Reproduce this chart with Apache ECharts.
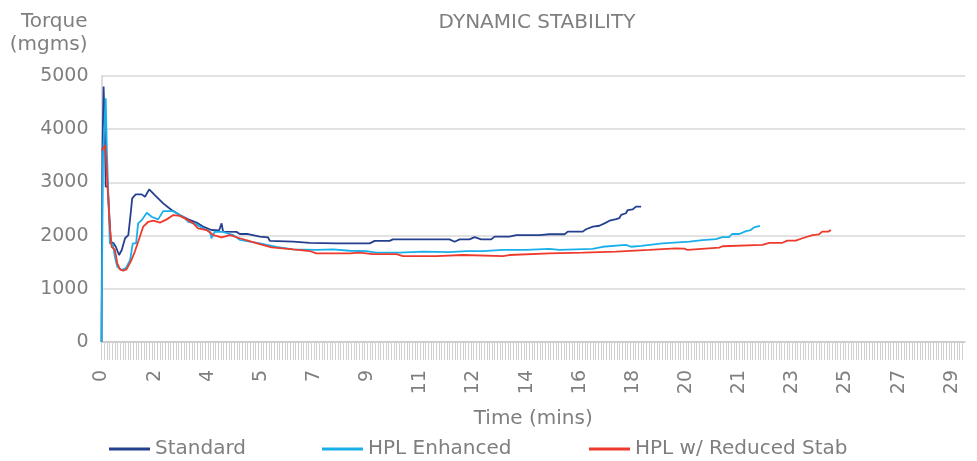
<!DOCTYPE html>
<html>
<head>
<meta charset="utf-8">
<script src="https://cdn.jsdelivr.net/npm/echarts@6/dist/echarts.min.js"></script>
<style>html,body{margin:0;padding:0;background:#fff;}#chart{width:977px;height:461px;}</style>
</head>
<body>
<div id="chart"></div>
<script>
// ---- data (time in minutes, torque in mgms) ----
const standardTime = [0.00,0.03,0.07,0.11,0.14,0.21,0.27,0.31,0.40,0.48,0.59,0.68,0.79,0.90,0.98,1.03,1.15,1.35,1.46,1.60,1.79,2.07,2.35,2.63,2.91,3.19,3.41,3.69,3.95,4.03,4.08,4.53,4.64,4.92,5.31,5.59,5.65,6.43,6.99,7.88,9.00,9.17,9.67,9.78,11.68,11.85,12.02,12.35,12.52,12.74,13.08,13.19,13.69,13.92,14.70,15.03,15.54,15.65,16.15,16.26,16.49,16.71,16.88,17.05,17.27,17.38,17.44,17.60,17.66,17.83,17.94,18.11];
const standardTorque = [0,3550,4800,4050,2920,2920,2900,1885,1860,1790,1635,1730,1950,2010,2420,2700,2775,2775,2730,2870,2760,2605,2480,2385,2305,2245,2170,2105,2100,2230,2075,2070,2030,2030,1980,1965,1900,1885,1865,1855,1855,1900,1900,1930,1930,1885,1930,1930,1970,1930,1930,1980,1980,2010,2010,2025,2025,2075,2075,2120,2170,2185,2230,2280,2310,2330,2390,2420,2480,2495,2545,2545];

const enhancedTime = [0.00,0.05,0.14,0.18,0.26,0.28,0.38,0.45,0.53,0.68,0.81,0.96,1.05,1.16,1.23,1.35,1.52,1.68,1.90,2.07,2.41,2.57,2.80,2.91,3.13,3.41,3.64,3.69,3.80,4.08,4.42,4.64,5.31,5.87,6.43,7.21,7.77,8.33,8.89,9.22,10.01,10.79,11.68,12.24,12.80,13.47,14.25,15.03,15.37,16.48,16.82,17.60,17.77,18.11,18.83,19.73,20.17,20.62,20.84,21.06,21.16,21.40,21.63,21.79,21.90,22.10];
const enhancedTorque = [0,3500,4580,3610,2230,1855,1840,1600,1415,1355,1385,1540,1855,1855,2230,2290,2430,2355,2305,2460,2460,2405,2325,2260,2230,2135,2075,1950,2075,2070,2010,1920,1855,1790,1740,1730,1740,1715,1710,1680,1680,1700,1690,1710,1710,1730,1730,1750,1730,1750,1790,1825,1790,1805,1855,1885,1915,1935,1970,1970,2030,2030,2085,2105,2155,2185];

const reducedTime = [0.00,0.13,0.23,0.28,0.34,0.45,0.53,0.62,0.73,0.84,0.98,1.12,1.27,1.40,1.57,1.74,1.96,2.19,2.41,2.63,2.86,3.08,3.24,3.53,3.75,4.03,4.31,4.64,5.03,5.31,5.71,6.43,6.99,7.21,8.33,8.66,9.11,9.90,10.12,11.24,12.13,13.47,13.69,15.03,16.15,17.27,18.38,19.28,19.56,19.67,20.73,20.84,22.18,22.41,22.85,23.02,23.30,23.52,23.86,24.08,24.19,24.39,24.48];
const reducedTorque = [3600,3700,2670,2170,1790,1730,1480,1365,1340,1365,1510,1700,1950,2170,2260,2280,2245,2305,2385,2370,2305,2230,2135,2105,2010,1965,2010,1950,1885,1840,1780,1740,1710,1665,1665,1680,1650,1650,1615,1615,1635,1615,1635,1665,1680,1700,1730,1760,1755,1730,1775,1800,1825,1865,1865,1905,1905,1950,2010,2025,2075,2075,2105];

const seriesNames = ['Standard', 'HPL Enhanced', 'HPL w/ Reduced Stab'];
const xTickLabels = ['0','2','4','5','7','9','11','12','14','16','18','20','21','23','25','27','29'];
const yTicks = [0, 1000, 2000, 3000, 4000, 5000];

// ---- axis geometry (one tick per sample slot, a label every 20 slots) ----
const slotsPerLabel = 20;
const minutesPerSlot = 1.78333 / slotsPerLabel;
const slotCount = 325;

function zip(t, v) { return t.map((x, i) => [x, v[i]]); }

const FONT = "'DejaVu Sans', sans-serif";
const GREY = '#7f7f7f';
const chart = echarts.init(document.getElementById('chart'), null, { renderer: 'canvas' });

const lineSeries = (name, data, color) => ({
  name, type: 'line', data, symbol: 'none', showSymbol: false,
  lineStyle: { color, width: 1.8 }, itemStyle: { color }, animation: false
});

const legendAt = (name, left) => ({
  data: [name], left, top: 439, padding: 0, itemWidth: 41, itemHeight: 3, icon: 'rect',
  textStyle: { fontFamily: FONT, fontSize: 20, color: GREY }, selectedMode: false
});

chart.setOption({
  animation: false,
  backgroundColor: '#ffffff',
  title: {
    text: 'DYNAMIC STABILITY', left: 532, top: 8, textAlign: 'center',
    textStyle: { fontFamily: FONT, fontSize: 20, fontWeight: 'normal', color: GREY }
  },
  legend: [legendAt(seriesNames[0], 109), legendAt(seriesNames[1], 322), legendAt(seriesNames[2], 589)],
  grid: { left: 101.5, right: 12, top: 76, bottom: 119, containLabel: false },
  xAxis: {
    type: 'value', min: 0, max: minutesPerSlot * slotCount, interval: minutesPerSlot,
    name: 'Time (mins)', nameLocation: 'middle', nameGap: 67,
    nameTextStyle: { fontFamily: FONT, fontSize: 20, color: GREY },
    axisLine: { show: true, lineStyle: { color: '#c8c8c8', width: 1.5 } },
    axisTick: { show: true, length: 18, lineStyle: { color: '#d0d0d0', width: 1 } },
    splitLine: { show: false },
    axisLabel: {
      rotate: 90, margin: 28, fontFamily: FONT, fontSize: 19, color: GREY,
      showMaxLabel: false, hideOverlap: false,
      formatter: (v) => {
        const idx = Math.round(v / minutesPerSlot);
        if (Math.abs(idx * minutesPerSlot - v) > 1e-6) return '';
        if (idx % slotsPerLabel !== 0) return '';
        return xTickLabels[idx / slotsPerLabel] || '';
      }
    }
  },
  yAxis: {
    type: 'value', min: yTicks[0], max: yTicks[yTicks.length - 1], interval: 1000,
    name: 'Torque\n(mgms)', nameLocation: 'end', nameGap: 20,
    nameTextStyle: { fontFamily: FONT, fontSize: 20, color: GREY, align: 'right', verticalAlign: 'bottom', lineHeight: 23, padding: [0, 14, 0, 0] },
    axisLine: { show: true, lineStyle: { color: '#d0d0d0', width: 1.5 } },
    axisTick: { show: false },
    splitLine: { show: true, lineStyle: { color: '#d9d9d9', width: 1.5 } },
    axisLabel: { margin: 13, fontFamily: FONT, fontSize: 19, color: GREY, formatter: (v) => String(v) }
  },
  series: [
    lineSeries(seriesNames[0], zip(standardTime, standardTorque), '#24408E'),
    lineSeries(seriesNames[1], zip(enhancedTime, enhancedTorque), '#19AFEA'),
    lineSeries(seriesNames[2], zip(reducedTime, reducedTorque), '#EE3A2C')
  ]
});
</script>
</body>
</html>
